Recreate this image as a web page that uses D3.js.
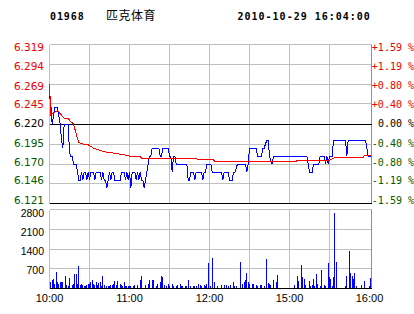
<!DOCTYPE html>
<html><head><meta charset="utf-8">
<script src="https://cdn.jsdelivr.net/npm/d3@7/dist/d3.min.js"></script>
<style>
html,body{margin:0;padding:0;background:#fff;}
svg{display:block;}
</style></head><body>
<svg id="chart" width="414" height="314"></svg>
<script>
// ---------- data ----------
const stockCode = "01968";
const stockName = "匹克体育";
const timestamp = "2010-10-29 16:04:00";
const prevClose = 6.220;
const priceTicks = [6.319, 6.294, 6.269, 6.245, 6.220, 6.195, 6.170, 6.146, 6.121];
const priceTickLabels = ["6.319", "6.294", "6.269", "6.245", "6.220", "6.195", "6.170", "6.146", "6.121"];
const pctTickLabels = ["+1.59 %", "+1.19 %", "+0.80 %", "+0.40 %", "0.00 %", "-0.40 %", "-0.80 %", "-1.19 %", "-1.59 %"];
const volTicks = [700, 1400, 2100, 2800];
const volTickLabels = ["700", "1400", "2100", "2800"];
const timeTickMinutes = [0, 60, 120, 180, 240];
const timeTickLabels = ["10:00", "11:00", "12:00", "15:00", "16:00"];
const gridMinutes = [30, 60, 90, 120, 150, 180, 210];

// last price per minute (minute 0 .. 241)
const lastPrice = [
  6.255, 6.245, 6.22, 6.23, 6.24, 6.24, 6.24, 6.23, 6.22, 6.20,
  6.19, 6.22, 6.22, 6.22, 6.22, 6.185, 6.18, 6.18, 6.17, 6.17,
  6.17, 6.16, 6.15, 6.15, 6.16, 6.15, 6.16, 6.16, 6.15, 6.16,
  6.15, 6.16, 6.16, 6.16, 6.15, 6.16, 6.16, 6.16, 6.16, 6.15,
  6.16, 6.15, 6.15, 6.14, 6.15, 6.16, 6.15, 6.16, 6.16, 6.15,
  6.15, 6.15, 6.15, 6.15, 6.16, 6.16, 6.16, 6.15, 6.16, 6.15,
  6.16, 6.14, 6.16, 6.16, 6.16, 6.15, 6.16, 6.15, 6.16, 6.15,
  6.15, 6.14, 6.15, 6.16, 6.17, 6.18, 6.18, 6.19, 6.19, 6.19,
  6.19, 6.19, 6.19, 6.18, 6.18, 6.19, 6.19, 6.19, 6.19, 6.19,
  6.18, 6.18, 6.16, 6.18, 6.18, 6.17, 6.17, 6.17, 6.17, 6.17,
  6.17, 6.17, 6.17, 6.17, 6.15, 6.15, 6.16, 6.16, 6.16, 6.15,
  6.16, 6.16, 6.16, 6.16, 6.16, 6.15, 6.16, 6.16, 6.17, 6.17,
  6.17, 6.17, 6.16, 6.16, 6.16, 6.16, 6.16, 6.16, 6.16, 6.16,
  6.15, 6.16, 6.16, 6.16, 6.16, 6.15, 6.15, 6.15, 6.16, 6.16,
  6.165, 6.17, 6.17, 6.17, 6.17, 6.17, 6.17, 6.17, 6.16, 6.17,
  6.19, 6.19, 6.19, 6.19, 6.19, 6.19, 6.18, 6.18, 6.18, 6.18,
  6.19, 6.19, 6.195, 6.20, 6.20, 6.18, 6.175, 6.17, 6.18, 6.18,
  6.18, 6.18, 6.18, 6.18, 6.18, 6.18, 6.18, 6.18, 6.18, 6.18,
  6.18, 6.18, 6.18, 6.18, 6.18, 6.18, 6.18, 6.18, 6.18, 6.18,
  6.18, 6.18, 6.18, 6.18, 6.17, 6.16, 6.16, 6.16, 6.17, 6.17,
  6.17, 6.17, 6.17, 6.18, 6.18, 6.18, 6.18, 6.17, 6.18, 6.17,
  6.18, 6.18, 6.18, 6.20, 6.20, 6.20, 6.20, 6.20, 6.20, 6.20,
  6.20, 6.20, 6.20, 6.18, 6.20, 6.20, 6.20, 6.20, 6.20, 6.20,
  6.20, 6.20, 6.20, 6.20, 6.20, 6.20, 6.20, 6.20, 6.19, 6.18,
  6.18, 6.18
];

// average price (read at break points)
const avgMinutes = [0, 1, 2, 4, 7, 8, 9, 11, 14, 16, 18, 19, 20, 21, 22, 25, 29, 31, 33, 38, 43, 47, 55, 60, 68, 69, 110, 111, 123, 124, 185, 186, 210, 214, 235, 236, 241];
const avgPrices = [6.270, 6.231, 6.233, 6.235, 6.235, 6.233, 6.231, 6.227, 6.2265, 6.223, 6.220, 6.214, 6.208, 6.202, 6.197, 6.195, 6.194, 6.192, 6.190, 6.187, 6.185, 6.184, 6.182, 6.180, 6.180, 6.1775, 6.1775, 6.1755, 6.1755, 6.1735, 6.1735, 6.175, 6.175, 6.178, 6.178, 6.1805, 6.1805];

// volume per minute
const volMinutes = [1,2,3,4,5,6,7,8,9,10,12,13,14,15,17,18,19,20,21,22,23,24,25,26,27,28,29,30,31,32,33,34,35,36,37,38,39,40,41,43,44,45,46,47,48,49,50,51,53,54,55,56,57,58,59,60,61,63,64,66,
  68,69,72,74,75,77,78,80,81,83,84,85,86,88,89,90,92,93,95,96,98,99,100,102,103,104,106,108,109,110,112,113,114,116,117,118,119,121,122,124,126,129,131,133,134,136,138,139,140,143,145,146,147,148,149,150,152,153,155,156,158,159,161,163,164,165,166,168,170,171,
  184,186,187,189,190,191,192,195,196,197,198,199,200,201,203,204,206,207,209,210,211,212,213,214,215,222,223,225,226,227,228,229,230,234,236,240,241];
const volValues = [235,295,320,177,590,235,177,235,235,235,437,118,83,378,118,177,507,531,177,790,118,177,118,83,83,118,177,177,235,295,177,118,236,118,200,236,83,437,118,83,83,83,118,118,177,260,118,260,150,118,83,236,83,83,83,83,100,83,118,118,
  295,437,118,177,295,295,295,83,150,236,437,413,118,83,177,83,150,83,83,118,177,83,83,83,83,295,83,83,83,83,177,118,83,118,83,150,910,83,1087,236,83,118,118,118,83,118,236,83,83,944,177,236,295,555,236,177,177,177,118,83,118,118,83,1050,200,177,118,295,236,472,
  118,437,270,826,390,330,118,270,83,118,330,83,507,177,83,650,118,83,910,390,354,83,390,2680,944,83,437,1334,555,437,354,555,83,118,270,83,378];

// ---------- drawing ----------
const svg = d3.select("#chart");
svg.append("rect").attr("width", 414).attr("height", 314).attr("fill", "#fff");

const L = 49.5, R = 371.5;
const pTop = 44.5, pBot = 203.5;
const vTop = 209.5, vBot = 288.5;

const x = d3.scaleLinear().domain([0, 240]).range([49.5, 369.5]);
const y = d3.scaleLinear().domain([6.121, 6.319]).range([pBot, pTop]);
const yLab = d3.scaleLinear().domain([6.121, 6.319]).range([200, 47.3]);
const yv = d3.scaleLinear().domain([0, 2800]).range([vBot, vTop]);
const yvLab = d3.scaleLinear().domain([0, 2800]).range([289.6, 213]);

const grid = "#c0c0c0";
const red = "#f00000", green = "#005a00";
const colorFor = v => v > prevClose ? red : (v < prevClose ? green : "#000");

const g = svg.append("g").attr("shape-rendering", "crispEdges");

// vertical grid lines
g.selectAll(".vgp").data(gridMinutes).join("line")
  .attr("x1", d => x(d)).attr("x2", d => x(d)).attr("y1", pTop).attr("y2", pBot)
  .attr("stroke", grid);
g.selectAll(".vgv").data(gridMinutes).join("line")
  .attr("x1", d => x(d)).attr("x2", d => x(d)).attr("y1", vTop).attr("y2", vBot)
  .attr("stroke", grid);

// horizontal price grid
g.selectAll(".hgp").data(priceTicks).join("line")
  .attr("x1", L).attr("x2", R).attr("y1", d => y(d)).attr("y2", d => y(d))
  .attr("stroke", (d, i) => (d === prevClose || i === priceTicks.length - 1) ? "#000" : grid);

// horizontal volume grid
g.selectAll(".hgv").data([0].concat(volTicks)).join("line")
  .attr("x1", L).attr("x2", R).attr("y1", d => yv(d)).attr("y2", d => yv(d))
  .attr("stroke", d => d === 0 ? "#000" : grid);

// borders (left / right)
[[pTop, pBot], [vTop, vBot]].forEach(([a, b]) => {
  g.append("line").attr("x1", L).attr("x2", L).attr("y1", a).attr("y2", b).attr("stroke", grid);
  g.append("line").attr("x1", R).attr("x2", R).attr("y1", a).attr("y2", b).attr("stroke", "#909090");
});
// re-draw black lines on top
g.append("line").attr("x1", L).attr("x2", R).attr("y1", y(6.121)).attr("y2", y(6.121)).attr("stroke", "#000");
g.append("line").attr("x1", L).attr("x2", R).attr("y1", y(prevClose)).attr("y2", y(prevClose)).attr("stroke", "#000");

// volume bars
g.selectAll(".vb").data(volMinutes).join("rect")
  .attr("x", d => Math.floor(x(d)))
  .attr("width", 1)
  .attr("y", (d, i) => Math.round(yv(volValues[i])))
  .attr("height", (d, i) => Math.max(1, Math.round(yv(0)) - Math.round(yv(volValues[i]))))
  .attr("fill", "#0000ff");
g.append("line").attr("x1", L).attr("x2", R).attr("y1", vBot).attr("y2", vBot).attr("stroke", "#000");

// price line
const priceLine = d3.line().x((d, i) => x(i)).y(d => y(d));
svg.append("path").datum(lastPrice).attr("d", priceLine)
  .attr("fill", "none").attr("stroke", "#0000ff").attr("stroke-width", 1)
  .attr("shape-rendering", "crispEdges");

// average line
const avgLine = d3.line().x(d => x(d[0])).y(d => y(d[1]));
svg.append("path").datum(avgMinutes.map((m, i) => [m, avgPrices[i]])).attr("d", avgLine)
  .attr("fill", "none").attr("stroke", "#ff0000").attr("stroke-width", 1)
  .attr("shape-rendering", "crispEdges");

// left price labels
svg.selectAll(".pl").data(priceTicks).join("text")
  .attr("x", 44).attr("y", d => yLab(d)).attr("dy", "0.36em")
  .attr("text-anchor", "end")
  .attr("font-family", "DejaVu Sans, Verdana, sans-serif").attr("font-size", 10.5)
  .attr("fill", d => colorFor(d))
  .text((d, i) => priceTickLabels[i]);

// right percent labels
svg.selectAll(".rl").data(priceTicks).join("text")
  .attr("x", 414).attr("y", d => yLab(d)).attr("dy", "0.36em")
  .attr("text-anchor", "end")
  .attr("font-family", "DejaVu Sans Mono, monospace").attr("font-size", 10)
  .attr("fill", d => colorFor(d))
  .text((d, i) => pctTickLabels[i]);

// volume labels
svg.selectAll(".vl").data(volTicks).join("text")
  .attr("x", 44).attr("y", d => yvLab(d)).attr("dy", "0.36em")
  .attr("text-anchor", "end")
  .attr("font-family", "Liberation Sans, Arial, sans-serif").attr("font-size", 10.5)
  .attr("fill", "#000")
  .text((d, i) => volTickLabels[i]);

// time labels
svg.selectAll(".tl").data(timeTickMinutes).join("text")
  .attr("x", d => x(d)).attr("y", 302)
  .attr("text-anchor", "middle")
  .attr("font-family", "Liberation Sans, Arial, sans-serif").attr("font-size", 11)
  .attr("fill", "#000")
  .text((d, i) => timeTickLabels[i]);

// header
svg.append("text").attr("x", 50).attr("y", 20)
  .attr("font-family", "DejaVu Sans Mono, monospace").attr("font-weight", "bold")
  .attr("font-size", 10).attr("letter-spacing", 0.9).attr("fill", "#000")
  .text(stockCode);
svg.append("text").attr("x", 106).attr("y", 19.5)
  .attr("font-family", "Noto Sans CJK SC, sans-serif")
  .attr("font-size", 12).attr("letter-spacing", 0.5).attr("fill", "#000")
  .text(stockName);
svg.append("text").attr("x", 237.5).attr("y", 20)
  .attr("font-family", "DejaVu Sans Mono, monospace").attr("font-weight", "bold")
  .attr("font-size", 10).attr("letter-spacing", 1).attr("fill", "#000")
  .text(timestamp);
</script>
</body></html>
